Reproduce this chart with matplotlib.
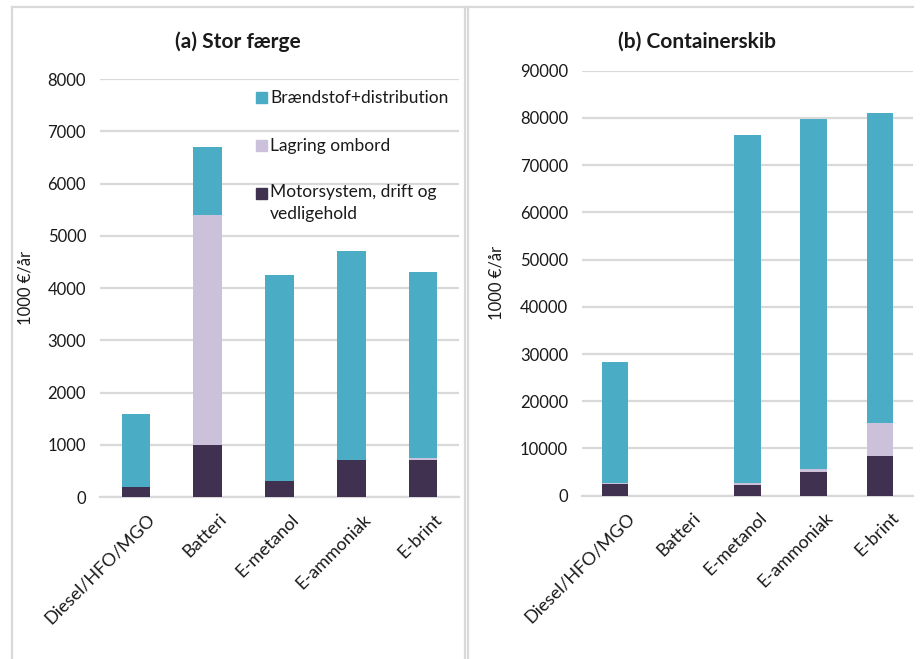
import numpy as np
import matplotlib.pyplot as plt
from matplotlib.patches import Rectangle
from matplotlib.lines import Line2D
from matplotlib.transforms import ScaledTranslation

plt.rcParams['font.family'] = ['Lato', 'DejaVu Sans']

categories = ['Diesel/HFO/MGO', 'Batteri', 'E-metanol', 'E-ammoniak', 'E-brint']
series = ['Motorsystem, drift og\nvedligehold', 'Lagring ombord', 'Brændstof+distribution']
colors = ['#403151', '#CCC1DA', '#4BACC6']

# (a) Stor færge, 1000 EUR per year
ferry_motor = [200, 1000, 300, 700, 700]
ferry_storage = [0, 4400, 0, 0, 50]
ferry_fuel = [1380, 1300, 3950, 4000, 3550]

# (b) Containerskib, 1000 EUR per year
ship_motor = [2400, 0, 2300, 5000, 8500]
ship_storage = [200, 0, 450, 650, 6800]
ship_fuel = [25800, 0, 73550, 74150, 65700]

grid_col = '#D9D9D9'
txt_col = '#1a1a1a'
fig = plt.figure(figsize=(9.23, 6.59), dpi=100)

# panel frames
for x in [11.5 / 923, 465 / 923, 468 / 923]:
    fig.add_artist(Line2D([x, x], [0, 1 - 7 / 659], transform=fig.transFigure,
                          color=grid_col, lw=1.6))
fig.add_artist(Line2D([11.5 / 923, 913 / 923], [1 - 7 / 659] * 2, transform=fig.transFigure,
                      color=grid_col, lw=1.6))

ax1 = fig.add_axes([100 / 923, 1 - 497 / 659, 359 / 923, 418 / 659])
ax2 = fig.add_axes([582 / 923, 1 - 495.7 / 659, 331 / 923, 425 / 659])


def stacked(ax, motor, storage, fuel, ymax, step):
    x = np.arange(len(categories))
    bottom = np.zeros(len(categories))
    for vals, col in zip([motor, storage, fuel], colors):
        ax.bar(x, vals, 0.4, bottom=bottom, color=col, zorder=3)
        bottom += np.array(vals)
    ax.set_xlim(-0.5, len(categories) - 0.5)
    ax.set_ylim(0, ymax)
    ax.set_yticks(np.arange(0, ymax + 1, step))
    ax.yaxis.grid(True, color=grid_col, lw=1.6, zorder=0)
    for s in ['top', 'right', 'left']:
        ax.spines[s].set_visible(False)
    ax.spines['bottom'].set_color(grid_col)
    ax.spines['bottom'].set_linewidth(1.6)
    ax.tick_params(length=0, labelsize=12, colors=txt_col)
    ax.tick_params(axis='y', pad=10)
    ax.tick_params(axis='x', pad=10, labelsize=13)
    ax.set_xticks(x)
    ax.set_xticklabels(categories, rotation=45, ha='right', va='top', rotation_mode='anchor')
    # nudge the slanted labels so their ends sit under the bars
    shift = ScaledTranslation(0.11, 0, fig.dpi_scale_trans)
    for lab in ax.get_xticklabels():
        lab.set_transform(lab.get_transform() + shift)
    ax.set_ylabel('1000 €/år', fontsize=12, color=txt_col)


stacked(ax1, ferry_motor, ferry_storage, ferry_fuel, 8000, 1000)
stacked(ax2, ship_motor, ship_storage, ship_fuel, 90000, 10000)
ax1.yaxis.set_label_coords(-0.184, 0.5)
ax2.yaxis.set_label_coords(-0.233, 0.5)

fig.text(238 / 923, 1 - 42 / 659, '(a) Stor færge', ha='center', va='center',
         fontsize=15, fontweight='bold', color=txt_col)
fig.text(697 / 923, 1 - 42 / 659, '(b) Containerskib', ha='center', va='center',
         fontsize=15, fontweight='bold', color=txt_col)

# legend, drawn in the ferry panel
leg_y = [0.7261, 0.8409, 0.9557]
for lab, col, yc in zip(series, colors, leg_y):
    ax1.add_patch(Rectangle((0.4345, yc - 0.0132), 0.0306, 0.0263, transform=ax1.transAxes,
                            color=col, clip_on=False, zorder=5))
    if '\n' in lab:
        ax1.text(0.4735, yc + 0.022, lab, transform=ax1.transAxes, ha='left', va='top',
                 fontsize=12.5, color=txt_col, linespacing=1.45)
    else:
        ax1.text(0.4735, yc, lab, transform=ax1.transAxes, ha='left', va='center',
                 fontsize=12.5, color=txt_col)

fig.savefig('out.png', dpi=100)
